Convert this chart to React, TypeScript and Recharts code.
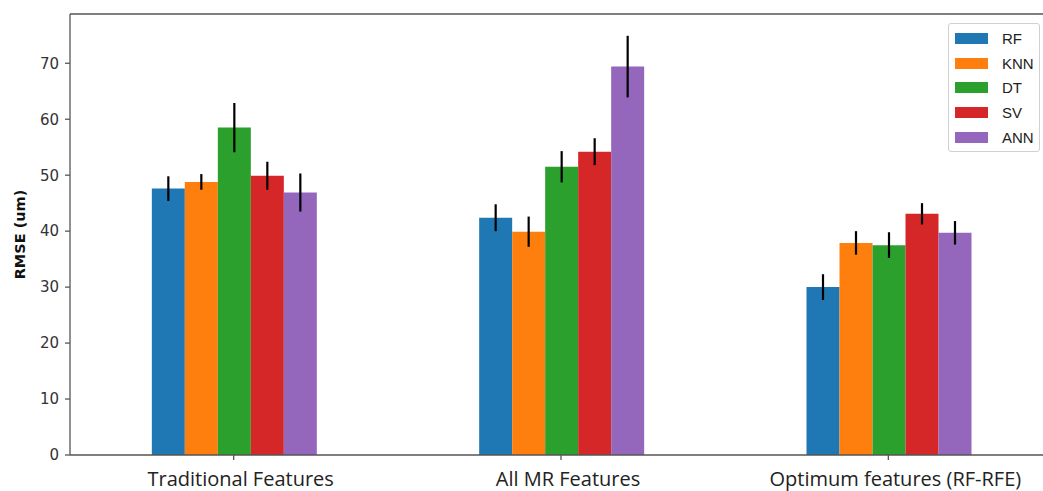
import { Bar, BarChart, ErrorBar, ReferenceLine, XAxis, YAxis } from 'recharts'

const categories = ['Traditional Features', 'All MR Features', 'Optimum features (RF-RFE)']

const rf = [47.6, 42.4, 30.0]
const rfErr = [2.2, 2.4, 2.3]
const knn = [48.8, 39.9, 37.9]
const knnErr = [1.4, 2.7, 2.1]
const dt = [58.5, 51.5, 37.5]
const dtErr = [4.4, 2.8, 2.3]
const sv = [49.9, 54.2, 43.1]
const svErr = [2.5, 2.4, 1.9]
const ann = [46.9, 69.4, 39.7]
const annErr = [3.4, 5.5, 2.1]

const yTicks = [0, 10, 20, 30, 40, 50, 60, 70]
const yMax = 78.8

const series = [
  { key: 'RF', values: rf, errors: rfErr, color: '#1f77b4' },
  { key: 'KNN', values: knn, errors: knnErr, color: '#ff7f0e' },
  { key: 'DT', values: dt, errors: dtErr, color: '#2ca02c' },
  { key: 'SV', values: sv, errors: svErr, color: '#d62728' },
  { key: 'ANN', values: ann, errors: annErr, color: '#9467bd' },
]

const data = categories.map((name, i) => {
  const row: Record<string, string | number> = { name }
  series.forEach((s) => {
    row[s.key] = s.values[i]
    row[`${s.key}Err`] = s.errors[i]
  })
  return row
})

const SPINE = '#555'

function LegendBox() {
  return (
    <div
      style={{
        position: 'absolute',
        left: 948,
        top: 23,
        width: 92,
        height: 129,
        boxSizing: 'border-box',
        border: '1px solid #d0d0d0',
        borderRadius: 3,
        background: 'rgba(255,255,255,0.85)',
        paddingTop: 2,
      }}
    >
      {series.map((s) => (
        <div
          key={s.key}
          style={{ display: 'flex', alignItems: 'center', height: 24.8 }}
        >
          <div
            style={{
              width: 33,
              height: 11,
              marginLeft: 6,
              background: s.color,
            }}
          />
          <span
            style={{
              marginLeft: 14,
              fontFamily: '"Liberation Sans", Arial, sans-serif',
              fontSize: 15,
              color: '#222',
            }}
          >
            {s.key}
          </span>
        </div>
      ))}
    </div>
  )
}

function YLabel(props: any) {
  const vb = props.viewBox ?? { x: 0, y: 0, width: 70, height: 441 }
  const cx = vb.x + 20
  const cy = vb.y + vb.height / 2
  return (
    <text
      x={cx}
      y={cy}
      transform={`rotate(-90 ${cx} ${cy})`}
      textAnchor="middle"
      dominantBaseline="central"
      fontFamily='"DejaVu Sans", sans-serif'
      fontWeight={700}
      fontSize={14.5}
      fill="#111"
    >
      RMSE (um)
    </text>
  )
}

export default function App() {
  return (
    <div
      style={{
        position: 'absolute',
        left: 0,
        top: 0,
        width: 1043,
        height: 491,
        overflow: 'hidden',
        background: '#fff',
      }}
    >
      <BarChart
        width={1070}
        height={491}
        data={data}
        margin={{ top: 14, right: 18, left: 0, bottom: 0 }}
        barCategoryGap="25%"
        barGap={0}
      >
        <XAxis
          dataKey="name"
          axisLine={{ stroke: SPINE, strokeWidth: 1.3 }}
          tickLine={{ stroke: SPINE, strokeWidth: 1.3 }}
          tickSize={5}
          tickMargin={12}
          height={36}
          tick={{
            fill: '#222',
            fontSize: 20,
            fontFamily: '"Open Sans", sans-serif',
            dx: 7,
          }}
        />
        <YAxis
          width={70}
          domain={[0, yMax]}
          ticks={yTicks}
          interval={0}
          allowDataOverflow
          axisLine={{ stroke: SPINE, strokeWidth: 1.3 }}
          tickLine={{ stroke: SPINE, strokeWidth: 1.3 }}
          tickSize={5}
          tickMargin={6}
          tick={{
            fill: '#333',
            fontSize: 15,
            fontFamily: '"DejaVu Sans", sans-serif',
          }}
          label={<YLabel />}
        />
        <ReferenceLine y={yMax} stroke={SPINE} strokeWidth={1.3} ifOverflow="visible" />
        {series.map((s) => (
          <Bar key={s.key} dataKey={s.key} fill={s.color} isAnimationActive={false}>
            <ErrorBar
              dataKey={`${s.key}Err`}
              width={0}
              stroke="#000"
              strokeWidth={2.2}
              direction="y"
            />
          </Bar>
        ))}
      </BarChart>
      <LegendBox />
    </div>
  )
}
